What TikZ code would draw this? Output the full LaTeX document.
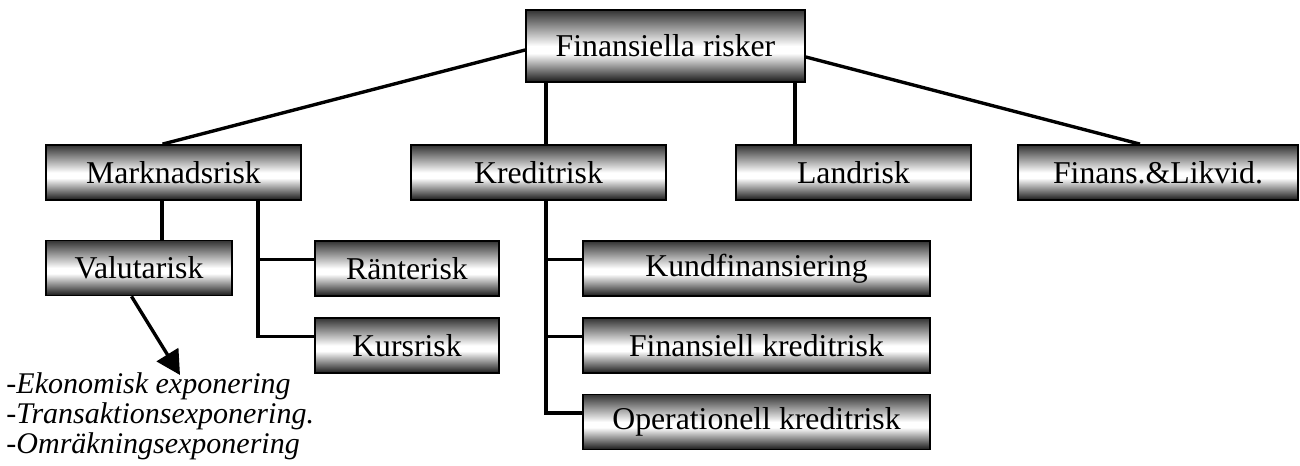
\documentclass[tikz,border=0pt]{standalone}
\usepackage{fontspec}
\setmainfont{Liberation Serif}
\usetikzlibrary{calc,arrows.meta}

\pgfdeclareverticalshading{riskshade}{100bp}{color(0bp)=(black!90); color(25bp)=(black!90); color(45bp)=(white); color(50bp)=(white); color(75bp)=(black!80); color(100bp)=(black!80)}

\tikzset{
  riskbox/.style={draw, line width=0.7pt, shade, shading=riskshade, inner sep=0pt, minimum height=22pt},
  link/.style={line width=1.35pt}
}

\begin{document}
\begin{tikzpicture}[x=0.4pt, y=-0.4pt, font=\fontsize{12.7pt}{13pt}\selectfont]
    \useasboundingbox (0,0) rectangle (1300,466);

    % top
    \node[riskbox, minimum width=111.6pt, minimum height=28.8pt] (fin) at (665.5,46) {Finansiella risker};

    % second row
    \node[riskbox, minimum width=102pt] (mark) at (173.5,172.5) {Marknadsrisk};
    \node[riskbox, minimum width=102pt] (kred) at (538.5,172.5) {Kreditrisk};
    \node[riskbox, minimum width=94pt] (land) at (853.5,172.5) {Landrisk};
    \node[riskbox, minimum width=112pt] (likv) at (1158,172.5) {Finans.\&Likvid.};

    % under Marknadsrisk
    \node[riskbox, minimum width=74.4pt] (valu) at (139,268) {Valutarisk};
    \node[riskbox, minimum width=73.6pt] (rant) at (407,268.5) {Ränterisk};
    \node[riskbox, minimum width=73.6pt] (kurs) at (407,345.5) {Kursrisk};

    % under Kreditrisk
    \node[riskbox, minimum width=138.8pt] (kund) at (756.5,268.5) {Kundfinansiering};
    \node[riskbox, minimum width=138.8pt] (fkred) at (756.5,345.5) {Finansiell kreditrisk};
    \node[riskbox, minimum width=138.8pt] (oper) at (756.5,422) {Operationell kreditrisk};

    \node[anchor=north west, align=left, inner sep=0pt, font=\fontsize{12pt}{12pt}\selectfont\itshape] (expo) at (6,372.5)
        {-Ekonomisk exponering\\-Transaktionsexponering.\\-Omräkningsexponering};

    \coordinate (vx) at (162,0);
    \coordinate (mx) at (258,0);
    \coordinate (kx) at (546,0);
    \coordinate (lx) at (795,0);
    \coordinate (tip) at (180,375);
    \coordinate (rb) at ($(rant.north west)!0.34!(rant.south west)$);
    \coordinate (kb) at ($(kurs.north west)!0.34!(kurs.south west)$);
    \coordinate (kub) at ($(kund.north west)!0.34!(kund.south west)$);
    \coordinate (fkb) at ($(fkred.north west)!0.34!(fkred.south west)$);
    \coordinate (ob) at ($(oper.north west)!0.34!(oper.south west)$);

    \draw[link] ($(fin.west)+(0,4)$) -- ($(mark.north)+(-11,0)$);
    \draw[link] (fin.south -| kx) -- (kred.north -| kx);
    \draw[link] (fin.south -| lx) -- (land.north -| lx);
    \draw[link] ($(fin.east)+(0,11)$) -- ($(likv.north)+(-18,0)$);

    \draw[link] (mark.south -| vx) -- (valu.north -| vx);
    \draw[link] (mark.south -| mx) |- (kb);
    \draw[link] (mx |- rb) -- (rb);

    \draw[link] (kred.south -| kx) |- (ob);
    \draw[link] (kx |- kub) -- (kub);
    \draw[link] (kx |- fkb) -- (fkb);

    \draw[link, -{Triangle[length=9.6pt, width=10pt]}] ($(valu.south west)!0.46!(valu.south east)$) -- (tip);
\end{tikzpicture}
\end{document}
